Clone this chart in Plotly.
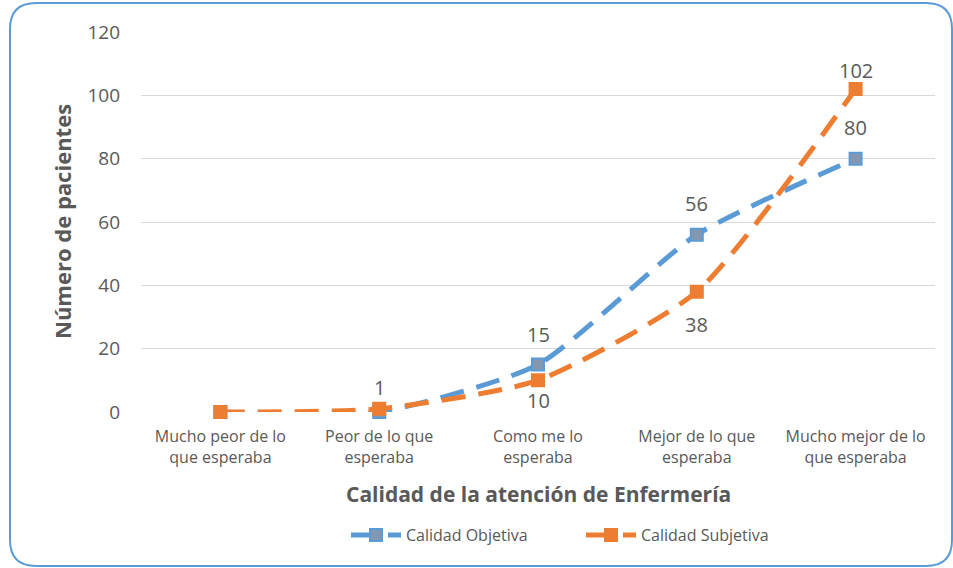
import plotly.graph_objects as go

categories = ["Mucho peor de lo<br>que esperaba", "Peor de lo que<br>esperaba", "Como me lo<br>esperaba",
              "Mejor de lo que<br>esperaba", "Mucho mejor de lo<br>que esperaba"]
objetiva = [0, 0, 15, 56, 80]
subjetiva = [0, 1, 10, 38, 102]
obj_labels = ["", "", "15", "56", "80"]
subj_labels = ["", "1", "10", "38", "102"]
y_ticks = [0, 20, 40, 60, 80, 100, 120]

# label offsets in pixels (style only)
obj_shift = [0, 0, 30, 31, 31]
subj_shift = [0, 21, -20, -33, 19]

FONT = "Open Sans"
GRAY = "#595959"
BLUE = "#5B9BD5"
ORANGE = "#ED7D31"

fig = go.Figure()
fig.add_trace(go.Scatter(
    x=categories, y=objetiva, name="Calidad Objetiva", mode="lines+markers",
    line=dict(color=BLUE, width=5, dash="24px,13px", shape="spline", smoothing=0.6),
    marker=dict(symbol="square", size=12, color="#8497B0", line=dict(color=BLUE, width=2)),
    cliponaxis=False,
))
fig.add_trace(go.Scatter(
    x=categories, y=subjetiva, name="Calidad Subjetiva", mode="lines+markers",
    line=dict(color=ORANGE, width=5, dash="24px,13px", shape="spline", smoothing=0.6),
    marker=dict(symbol="square", size=12, color=ORANGE, line=dict(color=ORANGE, width=2)),
    cliponaxis=False,
))

annotations = []
for xs, ys, labels, shifts in [(categories, objetiva, obj_labels, obj_shift),
                               (categories, subjetiva, subj_labels, subj_shift)]:
    for xv, yv, lab, sh in zip(xs, ys, labels, shifts):
        if lab:
            annotations.append(dict(x=xv, y=yv, xref="x", yref="y", text=lab, showarrow=False,
                                    yshift=sh, xanchor="center", yanchor="middle",
                                    font=dict(family=FONT, size=20, color=GRAY)))

L, R, T, B = 141, 18, 32, 156
W, H = 953, 568
pw, ph = W - L - R, H - T - B

def px(x):
    return (x - L) / pw

def py(y):
    return (H - B - y) / ph

# rounded border
x0, y0, x1, y1, r = 10, 3, 952, 566, 26
path = (f"M {px(x0 + r)},{py(y0)} L {px(x1 - r)},{py(y0)} Q {px(x1)},{py(y0)} {px(x1)},{py(y0 + r)} "
        f"L {px(x1)},{py(y1 - r)} Q {px(x1)},{py(y1)} {px(x1 - r)},{py(y1)} "
        f"L {px(x0 + r)},{py(y1)} Q {px(x0)},{py(y1)} {px(x0)},{py(y1 - r)} "
        f"L {px(x0)},{py(y0 + r)} Q {px(x0)},{py(y0)} {px(x0 + r)},{py(y0)} Z")

annotations += [
    dict(text="<b>Número de pacientes</b>", xref="paper", yref="paper", x=px(62), y=py(222),
         xanchor="center", yanchor="middle",
         textangle=-90, showarrow=False, font=dict(family=FONT, size=22, color=GRAY)),
    dict(text="<b>Calidad de la atención de Enfermería</b>", xref="paper", yref="paper",
         x=px(538), y=py(494), xanchor="center", yanchor="middle",
         showarrow=False, font=dict(family=FONT, size=21, color=GRAY)),
]

fig.update_layout(
    width=W, height=H,
    margin=dict(l=L, r=R, t=T, b=B),
    paper_bgcolor="white", plot_bgcolor="white",
    font=dict(family=FONT, color=GRAY),
    showlegend=True,
    legend=dict(orientation="h", x=px(346), xanchor="left", y=py(535), yanchor="middle",
                font=dict(family=FONT, size=16, color=GRAY), itemwidth=50,
                entrywidth=170, entrywidthmode="pixels"),
    shapes=[dict(type="path", xref="paper", yref="paper", path=path,
                 line=dict(color=BLUE, width=2), fillcolor="rgba(0,0,0,0)", layer="below")],
    annotations=annotations,
)
fig.update_xaxes(range=[-0.5, 4.5], showgrid=False, showline=False, zeroline=False, ticks="",
                 ticklabelstandoff=13, tickfont=dict(family=FONT, size=16, color=GRAY))
fig.update_yaxes(range=[0, 120], tickvals=y_ticks, showgrid=True, gridcolor="#D9D9D9", gridwidth=1,
                 zeroline=False, showline=False, ticks="", ticklabelstandoff=20,
                 tickfont=dict(family=FONT, size=19, color=GRAY))

fig.write_html("out.html", post_script="document.body.style.margin='0';",
               config={"displayModeBar": False})
